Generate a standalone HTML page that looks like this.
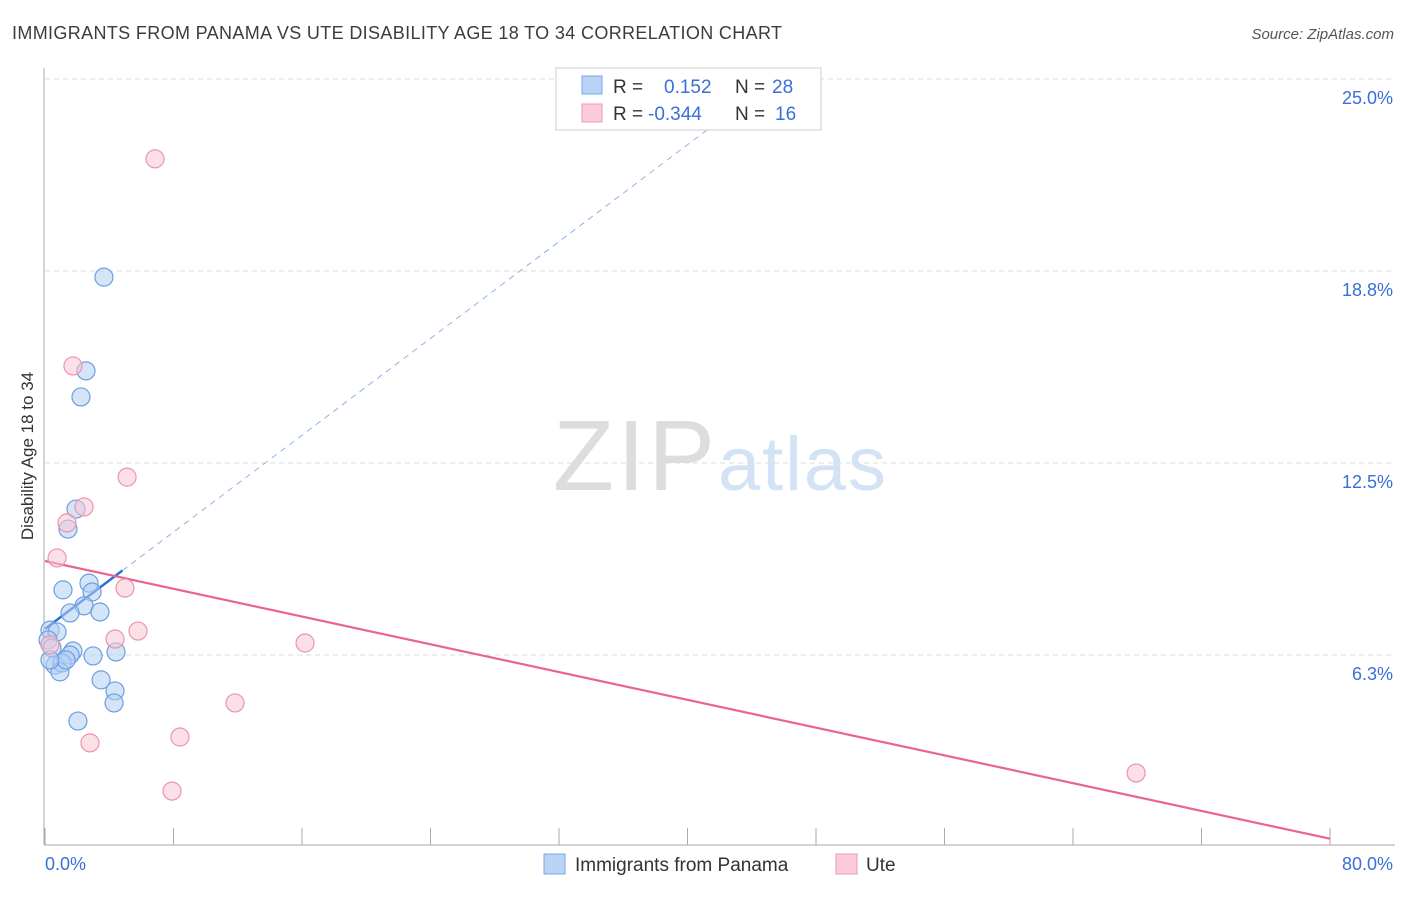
<!DOCTYPE html>
<html><head><meta charset="utf-8"><style>
body{margin:0;background:#fff;font-family:"Liberation Sans",sans-serif}
svg text{font-family:"Liberation Sans",sans-serif}
</style></head><body>
<svg id="chart" width="1406" height="892">
<text x="12" y="39" font-size="18" fill="#3c3c3c" textLength="770">IMMIGRANTS FROM PANAMA VS UTE DISABILITY AGE 18 TO 34 CORRELATION CHART</text>
<text x="1394" y="39" font-size="15" fill="#555" font-style="italic" text-anchor="end">Source: ZipAtlas.com</text>
<text x="0" y="0" transform="translate(33,456) rotate(-90)" font-size="17" fill="#333" text-anchor="middle">Disability Age 18 to 34</text>
<text x="553" y="490" font-size="100" fill="#ddd" font-family="Liberation Serif" textLength="162">ZIP</text>
<text x="718" y="490" font-size="76" fill="#d3e2f4" textLength="168">atlas</text>
<g id="grid"></g><g id="trend"></g><g id="pts"></g>
<g>
<rect x="556" y="68" width="265" height="62" fill="#fff" stroke="#ccc"/>
<rect x="582" y="76" width="20" height="18" fill="#b8d3f5" stroke="#7aa8e0"/>
<rect x="582" y="104" width="20" height="18" fill="#fbcbd9" stroke="#ec9ab2"/>
<text x="613" y="93" font-size="19" fill="#333">R = <tspan fill="#3a6fd8" x="664">0.152</tspan><tspan fill="#333" x="735">N =</tspan><tspan fill="#3a6fd8" x="772">28</tspan></text>
<text x="613" y="120" font-size="19" fill="#333">R = <tspan fill="#3a6fd8" x="648">-0.344</tspan><tspan fill="#333" x="735">N =</tspan><tspan fill="#3a6fd8" x="775">16</tspan></text>
</g>
<g>
<rect x="544" y="854" width="21" height="20" fill="#b8d3f5" stroke="#7aa8e0"/>
<text x="575" y="871" font-size="19" fill="#333">Immigrants from Panama</text>
<rect x="836" y="854" width="21" height="20" fill="#fbcbd9" stroke="#ec9ab2"/>
<text x="866" y="871" font-size="19" fill="#333">Ute</text>
</g>
</svg>
<script>
const blueX=[3.67,2.55,2.24,1.93,1.43,1.12,2.74,2.93,2.43,1.56,3.42,0.31,0.75,0.19,0.44,1.74,1.56,2.99,4.42,0.62,1.06,0.93,1.31,3.49,4.36,4.30,2.05,0.31];
const blueY=[18.55,15.50,14.65,11.00,10.35,8.37,8.59,8.30,7.85,7.62,7.65,7.06,7.00,6.74,6.48,6.38,6.25,6.22,6.35,5.92,5.99,5.70,6.09,5.44,5.08,4.69,4.10,6.09];
const pinkX=[6.85,1.74,5.11,2.43,1.37,0.75,4.98,5.79,4.36,16.19,11.83,8.40,2.80,7.91,67.93,0.31];
const pinkY=[22.40,15.66,12.04,11.07,10.55,9.41,8.43,7.03,6.77,6.64,4.69,3.58,3.39,1.82,2.41,6.58];
const yTicks=[6.25,12.5,18.75,25];
const yTickLabels=["6.3%","12.5%","18.8%","25.0%"];
const xTicks=[0,8,16,24,32,40,48,56,64,72,80];
const blueTrend=[7.10,0.394];
const pinkTrend=[9.31,-0.113];
const NS="http://www.w3.org/2000/svg";
const sx=v=>45+v*1285/80;
const sy=v=>847-v*768/25;
function mk(tag,attrs,parent){const e=document.createElementNS(NS,tag);for(const k in attrs)e.setAttribute(k,attrs[k]);document.getElementById(parent).appendChild(e);return e;}
yTicks.forEach((t,i)=>{
 const l=mk('line',{x1:45,x2:1395,y1:sy(t),y2:sy(t),stroke:'#ddd','stroke-dasharray':'5,4'},'grid');
 
 
 const tx=mk('text',{x:1393,y:sy(t)+25,'font-size':18,fill:'#3a6fd8','text-anchor':'end'},'grid');
 tx.textContent=yTickLabels[i];
 
 
});
const ax=mk('line',{x1:44,x2:44,y1:68,y2:845,stroke:'#aaa'},'grid');


const bx=mk('line',{x1:44,x2:1395,y1:845,y2:845,stroke:'#aaa'},'grid');


xTicks.forEach(t=>{
 const l=mk('line',{x1:sx(t),x2:sx(t),y1:828,y2:845,stroke:'#aaa'},'grid');
 
 
});
const xl0=mk('text',{x:45,y:870,'font-size':18,fill:'#3a6fd8'},'grid');xl0.textContent=xTicks[0].toFixed(1)+'%';


const xl1=mk('text',{x:1393,y:870,'font-size':18,fill:'#3a6fd8','text-anchor':'end'},'grid');xl1.textContent=xTicks[xTicks.length-1].toFixed(1)+'%';


function addPts(xs,ys,fill,stroke,name){xs.forEach((x,i)=>{
 const c=mk('circle',{cx:sx(x),cy:sy(ys[i]),r:9,fill:fill,stroke:stroke,'stroke-width':1.2,'fill-opacity':0.55},'pts');
 
 
});}
addPts(blueX,blueY,'#b3cff3','#6c9ee0','panama-point');
addPts(pinkX,pinkY,'#f9c6d5','#ec93ad','ute-point');
const bMax=Math.max(...blueX)+0.4;
const bEnd=(25-blueTrend[0])/blueTrend[1];
const bd=mk('line',{x1:sx(bMax),y1:sy(blueTrend[0]+blueTrend[1]*bMax),x2:sx(bEnd),y2:sy(25),stroke:'#8fb3e8','stroke-dasharray':'6,5','stroke-width':1},'trend');


const bs=mk('line',{x1:sx(0),y1:sy(blueTrend[0]),x2:sx(bMax),y2:sy(blueTrend[0]+blueTrend[1]*bMax),stroke:'#2f6fd6','stroke-width':2.5},'trend');


const pl=mk('line',{x1:sx(0),y1:sy(pinkTrend[0]),x2:sx(80),y2:sy(pinkTrend[0]+pinkTrend[1]*80),stroke:'#e86592','stroke-width':2.2},'trend');


</script>
</body></html>
